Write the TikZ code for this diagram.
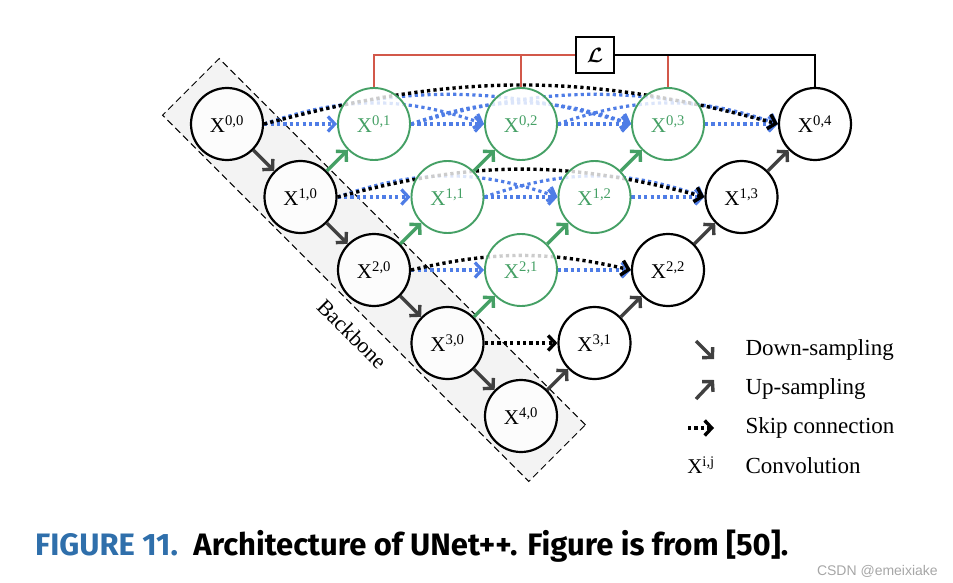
\documentclass[tikz,border=0pt]{standalone}
\usepackage{fontspec}
\setmainfont{Liberation Serif}
\newfontfamily\capfont{Fira Sans}
\newfontfamily\markfont{Liberation Sans}
\usepackage{amsmath,amssymb}
\usepackage{xcolor}
\usetikzlibrary{arrows.meta, positioning, backgrounds}
\definecolor{nestgreen}{HTML}{45A065}
\definecolor{skipblue}{HTML}{4F7DE6}
\definecolor{lossred}{HTML}{D2584A}
\definecolor{arrowgray}{HTML}{404040}
\definecolor{capblue}{HTML}{2F6FAB}
\definecolor{bbgray}{HTML}{F3F3F3}

\begin{document}
\begin{tikzpicture}[
    x=1pt, y=-1pt,
    conv/.style={
      circle,
      draw,
      line width=2.2pt,
      minimum size=72pt,
      inner sep=0pt,
      fill=white,
      fill opacity=0.8,
      text opacity=1,
      font=\fontsize{21}{21}\selectfont
    },
    nest/.style={conv, draw=nestgreen, text=nestgreen, line width=1.9pt},
    down/.style={
      draw=arrowgray,
      line width=3.4pt,
      -{Straight Barb[length=7pt, width=15pt]}
    },
    upg/.style={down, draw=nestgreen},
    skip/.style={
      line width=3.4pt,
      dash pattern=on 3.2pt off 3.2pt,
      -{Straight Barb[length=7pt, width=15pt]}
    },
    dense/.style={skip, draw=skipblue, line width=3.2pt},
    lossline/.style={line width=2.8pt, draw=lossred},
    backbone/.style={
      draw,
      dash pattern=on 7pt off 4pt,
      line width=1pt,
      fill=bbgray,
      rotate=-45,
      minimum width=518pt,
      minimum height=80pt
    },
    legend/.style={font=\fontsize{23}{23}\selectfont, anchor=west}
]
  \useasboundingbox (0,0) rectangle (953,583);

  % Backbone strip
  \begin{pgfonlayer}{background}
    \node[backbone] (bb) at (374,270) {};
  \end{pgfonlayer}
  \node[rotate=-45, font=\fontsize{22}{22}\selectfont] (bblab) at (352,334) {Backbone};

  % Encoder nodes
  \node[conv] (x00) at (227,124)   {X\textsuperscript{0,0}};
  \node[conv] (x10) at (300.5,197) {X\textsuperscript{1,0}};
  \node[conv] (x20) at (374,270)   {X\textsuperscript{2,0}};
  \node[conv] (x30) at (447.5,343) {X\textsuperscript{3,0}};
  \node[conv] (x40) at (521,416)   {X\textsuperscript{4,0}};

  % Nested nodes
  \node[nest] (x01) at (374,124)   {X\textsuperscript{0,1}};
  \node[nest] (x11) at (447.5,197) {X\textsuperscript{1,1}};
  \node[nest] (x21) at (521,270)   {X\textsuperscript{2,1}};
  \node[nest] (x02) at (521,124)   {X\textsuperscript{0,2}};
  \node[nest] (x12) at (594.5,197) {X\textsuperscript{1,2}};
  \node[nest] (x03) at (668,124)   {X\textsuperscript{0,3}};

  % Decoder nodes
  \node[conv] (x31) at (594.5,343) {X\textsuperscript{3,1}};
  \node[conv] (x22) at (668,270)   {X\textsuperscript{2,2}};
  \node[conv] (x13) at (741.5,197) {X\textsuperscript{1,3}};
  \node[conv] (x04) at (815,124)   {X\textsuperscript{0,4}};

  % Loss box and supervision lines
  \node[draw, line width=2.6pt, fill=white, minimum width=38pt, minimum height=36pt,
        font=\fontsize{20}{20}\selectfont] (loss) at (595,55) {$\boldsymbol{\mathcal{L}}$};
  \draw[lossline] (x01.north) |- (loss.west);
  \draw[lossline] (x02.north) -- (x02.north |- loss.west);
  \draw[lossline] (x03.north) -- (x03.north |- loss.west);
  \draw[lossline, draw=black] (loss.east) -| (x04.north);

  % Down-sampling
  \draw[down] (x00) -- (x10);
  \draw[down] (x10) -- (x20);
  \draw[down] (x20) -- (x30);
  \draw[down] (x30) -- (x40);

  % Up-sampling
  \draw[upg] (x10) -- (x01);
  \draw[upg] (x20) -- (x11);
  \draw[upg] (x11) -- (x02);
  \draw[upg] (x30) -- (x21);
  \draw[upg] (x21) -- (x12);
  \draw[upg] (x12) -- (x03);
  \draw[down] (x40) -- (x31);
  \draw[down] (x31) -- (x22);
  \draw[down] (x22) -- (x13);
  \draw[down] (x13) -- (x04);

  % Skip connections (behind the nodes)
  \begin{pgfonlayer}{background}
    \draw[dense] (x00.east) to[bend left=19] (x02.west);
    \draw[dense] (x01.east) to[bend left=19] (x03.west);
    \draw[dense] (x02.east) to[bend left=19] (x04.west);
    \draw[dense] (x00.east) to[bend left=16] (x03.west);
    \draw[dense] (x01.east) to[bend left=16] (x04.west);
    \draw[dense] (x10.east) to[bend left=19] (x12.west);
    \draw[dense] (x11.east) to[bend left=19] (x13.west);
    \draw[dense] (x00) -- (x01);
    \draw[dense] (x01) -- (x02);
    \draw[dense] (x02) -- (x03);
    \draw[dense] (x03) -- (x04);
    \draw[dense] (x10) -- (x11);
    \draw[dense] (x11) -- (x12);
    \draw[dense] (x12) -- (x13);
    \draw[dense] (x20) -- (x21);
    \draw[dense] (x21) -- (x22);
    \draw[skip] (x00.east) to[bend left=15] (x04.west);
    \draw[skip] (x10.east) to[bend left=15] (x13.west);
    \draw[skip] (x20.east) to[bend left=13] (x22.west);
    \draw[skip] (x30) -- (x31);
  \end{pgfonlayer}

  % Legend
  \node[legend] (ldown) at (742,350) {Down-sampling};
  \node[legend] (lup)   at (742,389) {Up-sampling};
  \node[legend] (lskip) at (742,428) {Skip connection};
  \node[legend] (lconv) at (742,466) {Convolution};
  \coordinate (dn1) at (696,341);
  \coordinate (dn2) at (714,359);
  \coordinate (up1) at (696,399);
  \coordinate (up2) at (714,380);
  \coordinate (sk1) at (688,428);
  \coordinate (sk2) at (714,428);
  \draw[down] (dn1) -- (dn2);
  \draw[down] (up1) -- (up2);
  \draw[skip] (sk1) -- (sk2);
  \node[font=\fontsize{21}{21}\selectfont] (lx) at (701,465) {X\textsuperscript{i,j}};

  % Caption
  \node[anchor=base west, inner sep=0pt, font=\capfont\bfseries\fontsize{31}{31}\selectfont] (cap)
    at (35,555) {\textcolor{capblue}{FIGURE 11.}\enspace Architecture of UNet++. Figure is from [50].};
  \node[anchor=base east, inner sep=0pt, text=gray!70, font=\markfont\fontsize{14}{14}\selectfont] (mark)
    at (938,575) {CSDN @emeixiake};
\end{tikzpicture}
\end{document}
